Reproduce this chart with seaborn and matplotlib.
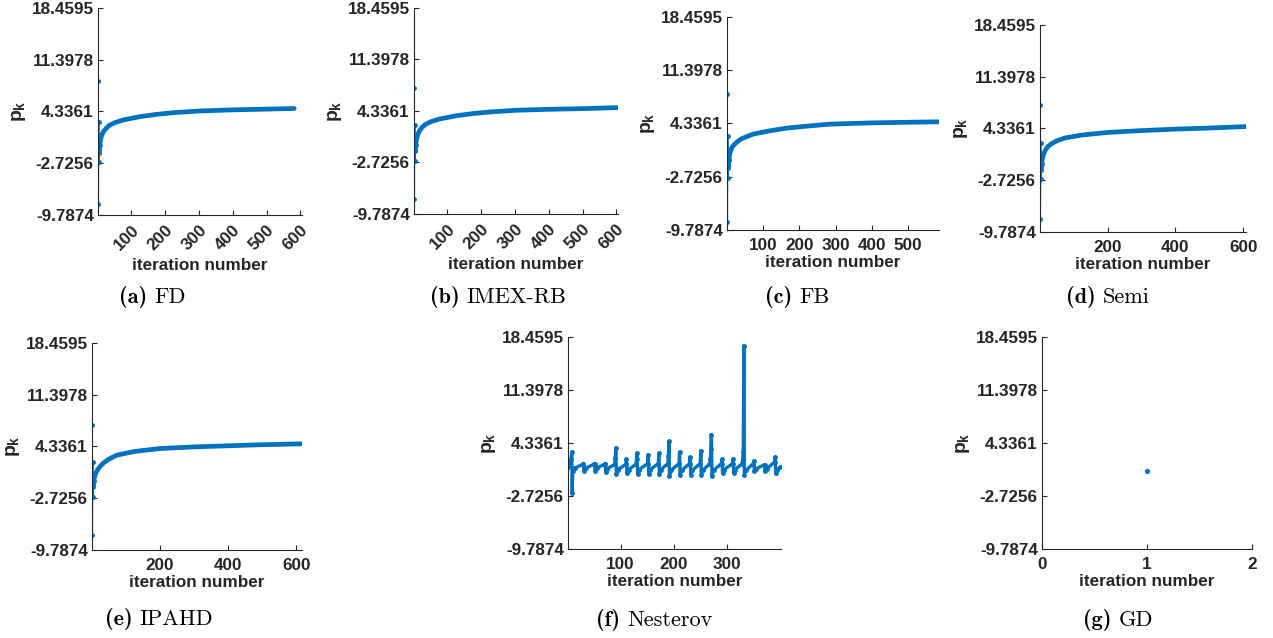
import matplotlib
matplotlib.use("Agg")
import matplotlib.pyplot as plt
import seaborn as sns

# ---------------- data ----------------
Y_TICKS = [-9.7874, -2.7256, 4.3361, 11.3978, 18.4595]
Y_TICK_LABELS = ["-9.7874", "-2.7256", "4.3361", "11.3978", "18.4595"]

fd_iter = [1, 2, 3, 4, 5, 6, 8, 12, 18, 25, 35, 50, 75, 125, 175, 225, 300, 400, 500, 582]
fd_pk = [8.54, -8.33, 2.94, -2.51, -1.37, -0.3, 0.4, 1.1, 1.65, 2.04, 2.45, 2.8, 3.18,
         3.63, 3.95, 4.18, 4.40, 4.56, 4.66, 4.75]

imex_iter = [1, 2, 3, 4, 5, 6, 8, 12, 18, 25, 35, 50, 75, 125, 175, 225, 300, 400, 500, 603]
imex_pk = [7.52, -7.77, 2.37, -2.47, -1.15, -0.3, 0.35, 1.1, 1.7, 2.1, 2.5, 2.85, 3.22,
           3.68, 3.98, 4.2, 4.43, 4.57, 4.66, 4.8]

fb_iter = [1, 2, 3, 4, 5, 6, 8, 12, 18, 27, 40, 73, 119, 165, 211, 284, 400, 500, 585]
fb_pk = [8.31, -8.7, 2.70, -2.83, -1.5, -0.5, 0.2, 0.9, 1.4, 1.82, 2.3, 2.93, 3.37,
         3.72, 3.94, 4.25, 4.42, 4.5, 4.56]

semi_iter = [1, 2, 3, 4, 5, 6, 8, 12, 18, 25, 35, 50, 75, 125, 200, 300, 400, 500, 607]
semi_pk = [7.53, -7.96, 2.29, -2.59, -1.36, -0.5, 0.2, 0.9, 1.5, 1.9, 2.25, 2.65, 3.05,
           3.45, 3.8, 4.05, 4.25, 4.4, 4.6]

ipahd_iter = [1, 2, 3, 4, 5, 6, 8, 12, 18, 24, 35, 50, 73, 125, 200, 300, 398, 500, 614]
ipahd_pk = [7.33, -7.74, 2.25, -2.52, -1.16, -0.4, 0.1, 0.7, 1.2, 1.57, 2.1, 2.6, 3.15,
            3.65, 4.06, 4.28, 4.43, 4.58, 4.7]

nest_iter = [1, 4, 7, 8, 9, 10, 11,
             14, 29, 30, 31,
             34, 50, 51, 52,
             55, 70, 71, 72,
             75, 89, 90, 91, 92,
             95, 110, 111, 112,
             115, 129, 130, 131, 132,
             135, 151, 152, 153,
             156, 171, 172, 173,
             176, 189, 190, 191, 192,
             195, 210, 211, 212,
             215, 230, 231, 232,
             235, 250, 251, 252,
             255, 268, 269, 270, 271, 272,
             275, 290, 291, 292,
             295, 311, 312, 313,
             316, 329, 330, 331, 332, 333,
             336, 350, 351, 352,
             355, 371, 372,
             375, 390, 391, 392,
             395, 401]
nest_pk = [1.2, 1.6, 2.2, 3.14, -2.32, 1.0, 0.6,
           1.0, 1.5, 1.6, 0.6,
           1.0, 1.5, 1.6, 0.6,
           1.0, 1.5, 1.6, 0.5,
           0.9, 1.5, 2.34, 3.67, 0.2,
           0.8, 1.5, 2.2, 0.3,
           0.8, 1.5, 2.2, 3.0, 0.25,
           0.8, 1.6, 2.78, 0.25,
           0.8, 1.6, 3.0, 0.2,
           0.8, 1.6, 2.56, 4.56, 0.0,
           0.7, 1.6, 3.14, 0.1,
           0.7, 1.6, 2.43, 0.1,
           0.7, 1.6, 3.32, 0.05,
           0.7, 1.6, 2.2, 3.58, 5.45, 0.0,
           0.7, 1.6, 2.2, 0.4,
           0.8, 1.6, 2.25, 0.3,
           0.8, 1.6, 2.2, 3.14, 17.3, 0.12,
           0.7, 1.6, 1.9, 0.6,
           0.9, 1.45, 0.6,
           0.9, 1.8, 2.43, 0.34,
           0.8, 1.1]

gd_iter = [1]
gd_pk = [0.65]

captions = ["(a)", "(b)", "(c)", "(d)", "(e)", "(f)", "(g)"]
methods = ["FD", "IMEX-RB", "FB", "Semi", "IPAHD", "Nesterov", "GD"]

# ---------------- style ----------------
sns.set_style("white")
plt.rcParams["font.family"] = ["Liberation Sans", "DejaVu Sans"]
plt.rcParams.update({
    "mathtext.fontset": "custom",
    "mathtext.rm": "Liberation Sans:bold",
    "mathtext.it": "Liberation Sans:bold",
    "mathtext.bf": "Liberation Sans:bold",
})

BLUE = "#0072BD"
AX_COL = "#262626"
W, H = 1273, 638
LAB_SIZE = 12.3

fig = plt.figure(figsize=(W / 100, H / 100), dpi=100)


def add_ax(l, r, t, b):
    return fig.add_axes([l / W, 1 - b / H, (r - l) / W, (b - t) / H])


def style_ax(ax, xlim, xticks, rot=False):
    ax.set_ylim(Y_TICKS[0], Y_TICKS[-1])
    ax.set_yticks(Y_TICKS)
    ax.set_yticklabels(Y_TICK_LABELS)
    ax.set_xlim(*xlim)
    ax.set_xticks(xticks)
    ax.set_xticklabels([str(t) for t in xticks])
    for s in ["top", "right"]:
        ax.spines[s].set_visible(False)
    for s in ["left", "bottom"]:
        ax.spines[s].set_color(AX_COL)
        ax.spines[s].set_linewidth(0.8)
    ax.tick_params(direction="in", length=3.5, width=0.8, color=AX_COL,
                   labelsize=LAB_SIZE, labelcolor=AX_COL, bottom=True, left=True,
                   top=False, right=False)
    ax.tick_params(axis="y", pad=3)
    ax.tick_params(axis="x", pad=6 if not rot else 5)
    for lab in ax.get_xticklabels() + ax.get_yticklabels():
        lab.set_fontweight("bold")
    if rot:
        plt.setp(ax.get_xticklabels(), rotation=45, ha="right", va="top",
                 rotation_mode="anchor")
    ax.set_xlabel("iteration number", fontweight="bold", fontsize=LAB_SIZE,
                  color=AX_COL, labelpad=1 if not rot else 4)
    ax.set_ylabel(r"$p_k$", fontsize=14, color=AX_COL, labelpad=3)
    ax.grid(False)


def draw_curve(ax, it, pk):
    # early oscillating iterates: thin line with dots
    sns.lineplot(x=it[:6], y=pk[:6], ax=ax, color=BLUE, lw=1.0, marker="o",
                 markersize=3.5, markeredgewidth=0, estimator=None, sort=False)
    # dense converging tail: thick band
    sns.lineplot(x=it[4:], y=pk[4:], ax=ax, color=BLUE, lw=3.4,
                 estimator=None, sort=False, solid_capstyle="round")


# top row
ax_a = add_ax(98, 302, 8, 215)
draw_curve(ax_a, fd_iter, fd_pk)
style_ax(ax_a, (1, 605), [100, 200, 300, 400, 500, 600], rot=True)

ax_b = add_ax(414, 618, 8, 214)
draw_curve(ax_b, imex_iter, imex_pk)
style_ax(ax_b, (1, 605), [100, 200, 300, 400, 500, 600], rot=True)

ax_c = add_ax(727, 939, 17, 230)
draw_curve(ax_c, fb_iter, fb_pk)
style_ax(ax_c, (1, 585), [100, 200, 300, 400, 500])

ax_d = add_ax(1040, 1246, 25, 232)
draw_curve(ax_d, semi_iter, semi_pk)
style_ax(ax_d, (1, 608), [200, 400, 600])

# bottom row
ax_e = add_ax(92, 302, 343, 550)
draw_curve(ax_e, ipahd_iter, ipahd_pk)
style_ax(ax_e, (1, 617), [200, 400, 600])

ax_f = add_ax(568, 781, 337, 549)
sns.lineplot(x=nest_iter, y=nest_pk, ax=ax_f, color=BLUE, lw=2.4, marker="o",
             markersize=3.5, markeredgewidth=0, estimator=None, sort=False)
style_ax(ax_f, (1, 402), [100, 200, 300])

ax_g = add_ax(1042, 1252, 337, 549)
sns.scatterplot(x=gd_iter, y=gd_pk, ax=ax_g, color=BLUE, s=14, linewidth=0)
style_ax(ax_g, (0, 2), [0, 1, 2])

# captions: bold "(x)" in CM bold, method name in CM roman, centred as a group
cap_pos = [(152, 298), (498, 298), (797, 298), (1108, 298),
           (159, 620), (654, 621), (1118, 621)]
renderer = fig.canvas.get_renderer()
CAP_SIZE = 16
GAP = 7
for (cx, cy), c, m in zip(cap_pos, captions, methods):
    t1 = fig.text(0, 0, c, family="cmb10", fontsize=CAP_SIZE, va="baseline",
                  ha="left", color="black")
    t2 = fig.text(0, 0, m, family="cmr10", fontsize=CAP_SIZE, va="baseline",
                  ha="left", color="black")
    w1 = t1.get_window_extent(renderer).width
    w2 = t2.get_window_extent(renderer).width
    x0 = cx - (w1 + GAP + w2) / 2
    yb = 1 - (cy + 5) / H
    t1.set_position((x0 / W, yb))
    t2.set_position(((x0 + w1 + GAP) / W, yb))

fig.savefig("out.png", dpi=100)
